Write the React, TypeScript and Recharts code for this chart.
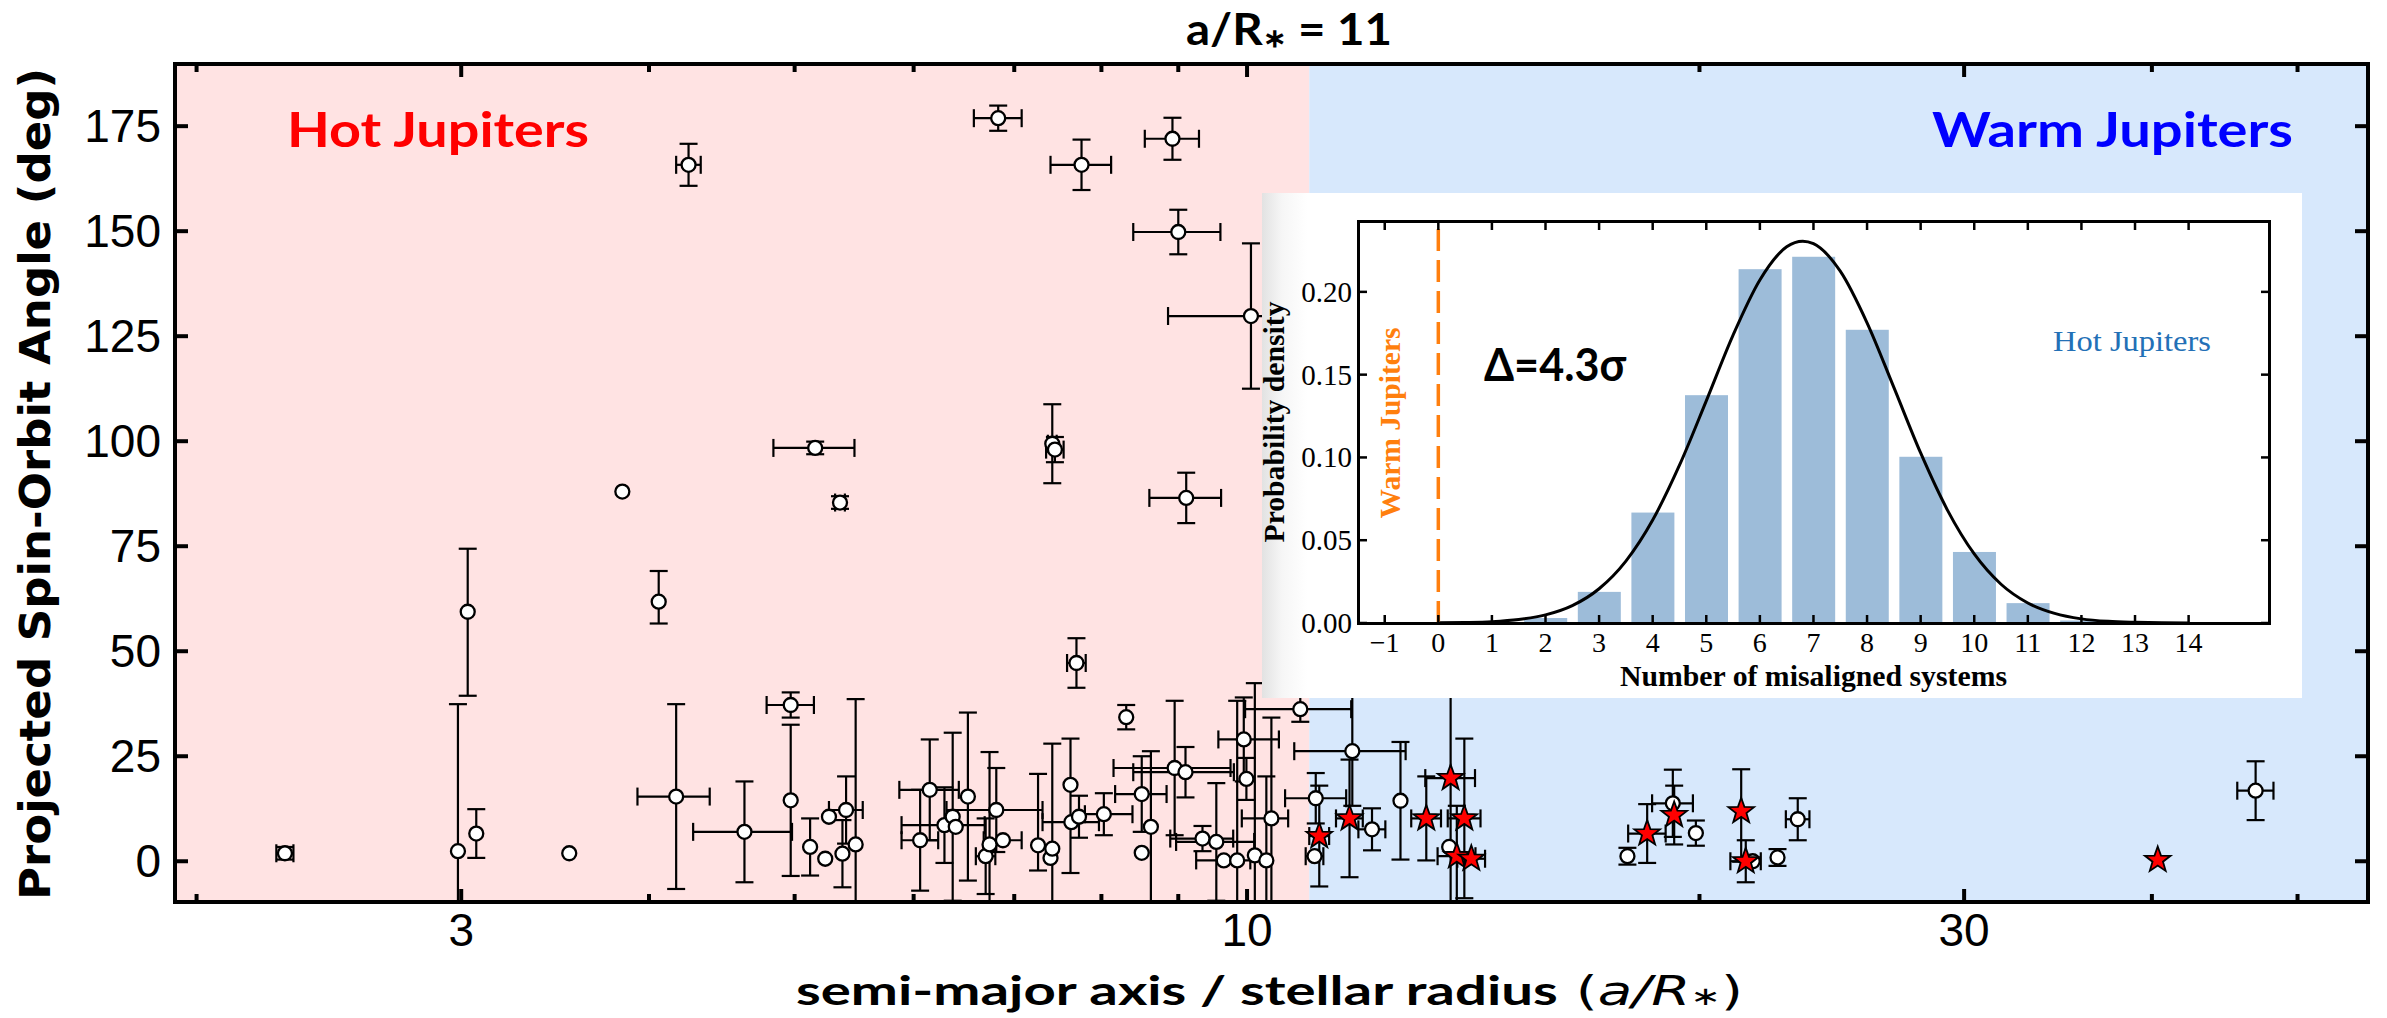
import React from 'react';
import { ComposedChart, Scatter, ErrorBar, XAxis, YAxis, ReferenceArea, Bar, Line, ReferenceLine } from 'recharts';

if (typeof document !== 'undefined') {
  document.body.style.margin = '0';
}

// ---------- main panel data ----------
const X_DOMAIN = [1.935, 55.7];
const Y_DOMAIN = [-9.7, 189.8];
const BOUNDARY = 11;
const X_MAJOR = [3, 10, 30];
const X_MINOR = [2, 4, 5, 6, 7, 8, 9, 20, 40, 50];
const Y_TICKS = [0, 25, 50, 75, 100, 125, 150, 175];

// [a/R*, projected obliquity, x error, y error]  (error: value or [minus, plus])
const OPEN_POINTS: any[] = [
  [2.29, 1.9, 0.03, 1.5],
  [3.03, 59.4, 0, [20, 15]],
  [2.985, 2.4, 0, [45, 35]],
  [3.07, 6.6, 0, 5.8],
  [3.54, 1.9, 0, 0],
  [3.84, 88.0, 0, 0],
  [4.06, 61.8, 0, [5.2, 7.3]],
  [4.17, 15.4, [0.24, 0.22], 22],
  [4.25, 165.8, 0.08, 5],
  [4.63, 7.0, 0.35, 12],
  [4.97, 37.2, 0.18, 3],
  [4.97, 14.5, 0, 18],
  [5.12, 3.4, 0, 6.8],
  [5.16, 98.4, 0.32, 1.5],
  [5.24, 0.6, 0, 0],
  [5.27, 10.6, 0, 0],
  [5.36, 85.4, 0.04, 1.5],
  [5.38, 1.8, 0, 8],
  [5.41, 12.2, 0.14, 8],
  [5.49, 4.0, 0, 34.6],
  [6.06, 5.0, 0.17, 12],
  [6.15, 17.0, 0.28, 12],
  [6.29, 8.6, 0.4, 9],
  [6.37, 10.6, 0, 20],
  [6.40, 8.2, 0, 0],
  [6.52, 15.4, 0, 20],
  [6.70, 1.2, 0.1, 9],
  [6.74, 4.0, 0, 22],
  [6.81, 12.2, 0.5, 10],
  [6.83, 176.9, 0.25, 3],
  [6.88, 5.0, 0.2, 0],
  [7.26, 3.8, 0, [6, 17]],
  [7.40, 0.8, 0, 0],
  [7.42, 3.0, 0, 25],
  [7.42, 99.4, 0.05, 9.4],
  [7.45, 98.0, 0.1, 3],
  [7.63, 18.2, 0, [21, 11]],
  [7.64, 9.3, 0.33, 0],
  [7.70, 47.2, 0.11, 5.9],
  [7.73, 10.6, 0, 5],
  [7.76, 165.8, 0.36, 6],
  [8.03, 11.2, [0.23, 0.36], 5],
  [8.31, 34.3, 0, 2.9],
  [8.51, 16.0, [0.34, 0.33], 9],
  [8.51, 2.0, 0, 0],
  [8.63, 8.2, 0, 18],
  [8.92, 172.0, 0.37, 5],
  [8.95, 22.2, 0.8, 16],
  [9.00, 149.8, 0.6, 5.3],
  [9.10, 21.2, 0.7, 6],
  [9.11, 86.5, 0.5, 6],
  [9.34, 5.4, 0.45, 3],
  [9.54, 4.6, 0.57, 14],
  [9.65, 0.2, 0.4, 0],
  [9.85, 0.2, 0, 38],
  [9.95, 29.0, [0.38, 0.55], 10],
  [9.99, 19.6, 0, 5],
  [10.06, 129.8, 1.2, 17.3],
  [10.12, 1.4, 0, 41],
  [10.30, 0.2, 0, 20],
  [10.38, 10.2, [0.46, 0.27], 24],
  [10.85, 36.2, 0.88, 3],
  [11.09, 1.2, 0.15, 0],
  [11.11, 15.0, [0.51, 0.53], 6],
  [11.75, 26.2, 1.0, 13],
  [12.11, 7.6, 0.25, 5],
  [12.65, 14.4, 0, 14],
  [13.63, 3.4, 0, 0],
  [17.91, 1.2, 0, 2],
  [19.2, 13.8, 0.6, 8],
  [19.89, 6.7, 0, 3],
  [21.7, 0.0, 0, 0],
  [22.54, 0.9, 0, 2],
  [23.25, 10.0, 0.42, 5],
  [46.89, 16.8, 1.3, 7],
];

const STAR_POINTS: any[] = [
  [11.17, 6.0, 0.17, 12],
  [11.70, 10.2, 0.24, 14],
  [13.16, 10.2, 0.3, 10],
  [13.66, 19.8, 0.52, 40],
  [13.95, 10.2, 0.35, 19],
  [13.79, 1.2, 0.4, 12],
  [14.10, 0.6, 0.3, 0],
  [18.46, 6.6, 0.53, 7],
  [19.24, 11.0, 0, 7],
  [21.32, 11.9, 0, [12, 10]],
  [21.47, 0.0, 0.5, 5],
  [40.36, 0.3, 0, 0],
];

// ---------- inset data ----------
const HIST_N = [2, 3, 4, 5, 6, 7, 8, 9, 10, 11, 12];
const HIST_P = [0.003, 0.0188, 0.0667, 0.1376, 0.2137, 0.2212, 0.1771, 0.1004, 0.0429, 0.012, 0.0015];
const CURVE_X = [0, 0.5, 1, 1.5, 2, 2.5, 3, 3.5, 4, 4.5, 5, 5.5, 6, 6.5, 6.8, 7, 7.5, 8, 8.5, 9, 9.5, 10, 10.5, 11, 11.5, 12, 12.5, 13, 13.5, 14];
const CURVE_P = [0.0001, 0.0003, 0.0008, 0.0021, 0.0049, 0.0105, 0.0207, 0.0374, 0.0622, 0.0953, 0.1342, 0.1739, 0.2072, 0.2272, 0.2306, 0.2291, 0.2125, 0.1813, 0.1423, 0.1027, 0.0682, 0.0417, 0.0234, 0.0121, 0.0058, 0.0025, 0.001, 0.0004, 0.0001, 0.0];
const INSET_X_DOMAIN = [-1.48, 15.5];
const INSET_Y_DOMAIN = [0, 0.2422];
const INSET_X_TICKS = [-1, 0, 1, 2, 3, 4, 5, 6, 7, 8, 9, 10, 11, 12, 13, 14];
const INSET_Y_TICKS = [0, 0.05, 0.1, 0.15, 0.2];
const WARM_COUNT = 0;

// ---------- built tables ----------
const toRows = (arr: any[]) => arr.map((p) => ({ x: p[0], y: p[1], ex: p[2], ey: p[3] }));
const openData = toRows(OPEN_POINTS);
const starData = toRows(STAR_POINTS);
const histData = HIST_N.map((n, i) => ({ n, p: HIST_P[i] }));
const curveData = CURVE_X.map((n, i) => ({ n, p: CURVE_P[i] }));

// ---------- layout ----------
const W = 2387;
const H = 1018;
const MAIN = { left: 175, top: 64, width: 2193, height: 838 };
const INSET_BOX = { left: 1262, top: 193, width: 1040, height: 505 };
const INSET = { left: 1359, top: 222, width: 910, height: 401 };
const BAR_PX = 43;

const TICK_FONT = "'Liberation Sans', Arial, sans-serif";
const SERIF = "'Liberation Serif', 'Times New Roman', serif";

const XTick = (props: any) => {
  const { x, y, payload } = props;
  const v = payload.value;
  const major = X_MAJOR.indexOf(v) >= 0;
  const len = major ? 13 : 8;
  return (
    <g>
      <line x1={x} x2={x} y1={y} y2={y - len} stroke="#000" strokeWidth={4} />
      <line x1={x} x2={x} y1={y - MAIN.height} y2={y - MAIN.height + len} stroke="#000" strokeWidth={4} />
      {major && (
        <text x={x} y={y + 44} textAnchor="middle" fontFamily={TICK_FONT} fontSize={46} fill="#000">
          {v}
        </text>
      )}
    </g>
  );
};

const YTick = (props: any) => {
  const { x, y, payload } = props;
  return (
    <g>
      <line x1={x} x2={x + 13} y1={y} y2={y} stroke="#000" strokeWidth={4} />
      <line x1={x + MAIN.width} x2={x + MAIN.width - 13} y1={y} y2={y} stroke="#000" strokeWidth={4} />
      <text x={x - 14} y={y + 16} textAnchor="end" fontFamily={TICK_FONT} fontSize={46} fill="#000">
        {payload.value}
      </text>
    </g>
  );
};

const InsetXTick = (props: any) => {
  const { x, y, payload } = props;
  const v = payload.value;
  const label = v < 0 ? '\u2212' + Math.abs(v) : String(v);
  return (
    <g>
      <line x1={x} x2={x} y1={y} y2={y - 8} stroke="#000" strokeWidth={2.5} />
      <line x1={x} x2={x} y1={y - INSET.height} y2={y - INSET.height + 8} stroke="#000" strokeWidth={2.5} />
      <text x={x} y={y + 29} textAnchor="middle" fontFamily={SERIF} fontSize={28} fill="#000">
        {label}
      </text>
    </g>
  );
};

const InsetYTick = (props: any) => {
  const { x, y, payload } = props;
  return (
    <g>
      <line x1={x} x2={x + 8} y1={y} y2={y} stroke="#000" strokeWidth={2.5} />
      <line x1={x + INSET.width} x2={x + INSET.width - 8} y1={y} y2={y} stroke="#000" strokeWidth={2.5} />
      <text x={x - 7} y={y + 10} textAnchor="end" fontFamily={SERIF} fontSize={29} fill="#000">
        {Number(payload.value).toFixed(2)}
      </text>
    </g>
  );
};

const HistBar = (props: any) => {
  const { x, y, width, height } = props;
  if (x == null || y == null || !(height > 0)) return <g />;
  const cx = x + width / 2;
  return <rect x={cx - BAR_PX / 2} y={y} width={BAR_PX} height={height} fill="#9dbcd9" />;
};

const OpenMarker = (props: any) => {
  const { cx, cy } = props;
  if (cx == null || cy == null) return <g />;
  return <circle cx={cx} cy={cy} r={7} fill="#fff" stroke="#000" strokeWidth={2.3} />;
};

const StarMarker = (props: any) => {
  const { cx, cy } = props;
  if (cx == null || cy == null) return <g />;
  const R = 13.5;
  const r = 5.5;
  const pts: string[] = [];
  for (let i = 0; i < 10; i++) {
    const a = -Math.PI / 2 + (i * Math.PI) / 5;
    const rr = i % 2 === 0 ? R : r;
    pts.push(`${cx + rr * Math.cos(a)},${cy + rr * Math.sin(a)}`);
  }
  return <polygon points={pts.join(' ')} fill="#ff0000" stroke="#000" strokeWidth={1.8} strokeLinejoin="miter" />;
};

const errProps = { width: 9, stroke: '#000', strokeWidth: 2.2, isAnimationActive: false } as any;

const CLIP_CSS = `
.main-plot .recharts-errorBars, .main-plot .recharts-errorBar { clip-path: url(#mainPlotClip); }
`;

export default function App() {
  const xTicks = [...X_MINOR, ...X_MAJOR].sort((a, b) => a - b);
  return (
    <div style={{ position: 'relative', width: W, height: H, background: '#fff', overflow: 'hidden' }}>
      <style>{CLIP_CSS}</style>
      <svg width={0} height={0} style={{ position: 'absolute' }}>
        <defs>
          <clipPath id="mainPlotClip" clipPathUnits="userSpaceOnUse">
            <rect x={MAIN.left} y={MAIN.top} width={MAIN.width} height={MAIN.height} />
          </clipPath>
        </defs>
      </svg>
      <div className="main-plot" style={{ position: 'absolute', left: 0, top: 0 }}>
        <ComposedChart width={W} height={H} margin={{ top: MAIN.top, right: W - MAIN.left - MAIN.width, bottom: H - MAIN.top - MAIN.height - 60, left: MAIN.left - 100 }}>
          <ReferenceArea x1={X_DOMAIN[0]} x2={BOUNDARY} y1={Y_DOMAIN[0]} y2={Y_DOMAIN[1]} fill="#ffe3e3" fillOpacity={1} stroke="none" ifOverflow="hidden" />
          <ReferenceArea x1={BOUNDARY} x2={X_DOMAIN[1]} y1={Y_DOMAIN[0]} y2={Y_DOMAIN[1]} fill="#d7e8fc" fillOpacity={1} stroke="none" ifOverflow="hidden" />
          <Scatter data={openData} shape={OpenMarker} isAnimationActive={false}>
            <ErrorBar dataKey="ex" direction="x" {...errProps} />
            <ErrorBar dataKey="ey" direction="y" {...errProps} />
          </Scatter>
          <Scatter data={starData} shape={StarMarker} isAnimationActive={false}>
            <ErrorBar dataKey="ex" direction="x" {...errProps} />
            <ErrorBar dataKey="ey" direction="y" {...errProps} />
          </Scatter>
          <XAxis
            dataKey="x"
            type="number"
            scale="log"
            domain={X_DOMAIN}
            allowDataOverflow
            ticks={xTicks}
            interval={0}
            tick={XTick}
            tickLine={false}
            axisLine={false}
            tickSize={0}
            tickMargin={0}
            height={60}
          />
          <YAxis
            dataKey="y"
            type="number"
            domain={Y_DOMAIN}
            allowDataOverflow
            ticks={Y_TICKS}
            interval={0}
            tick={YTick}
            tickLine={false}
            axisLine={false}
            tickSize={0}
            tickMargin={0}
            width={100}
          />
        </ComposedChart>
      </div>
      {/* main frame */}
      <div
        style={{
          position: 'absolute',
          left: MAIN.left - 2,
          top: MAIN.top - 2,
          width: MAIN.width + 4,
          height: MAIN.height + 4,
          border: '4px solid #000',
          boxSizing: 'border-box',
          pointerEvents: 'none',
        }}
      />
      {/* inset box */}
      <div
        style={{
          position: 'absolute',
          left: INSET_BOX.left,
          top: INSET_BOX.top,
          width: INSET_BOX.width,
          height: INSET_BOX.height,
          background: 'linear-gradient(to right, #e2e2e2 0px, #f6f6f6 20px, #ffffff 45px)',
        }}
      >
        <ComposedChart
          width={INSET_BOX.width}
          height={INSET_BOX.height}
          data={histData}
          margin={{
            top: INSET.top - INSET_BOX.top,
            right: INSET_BOX.left + INSET_BOX.width - INSET.left - INSET.width,
            bottom: INSET_BOX.top + INSET_BOX.height - INSET.top - INSET.height - 40,
            left: INSET.left - INSET_BOX.left - 60,
          }}
        >
          <Bar dataKey="p" fill="#9dbcd9" shape={HistBar} isAnimationActive={false} />
          <Line data={curveData} dataKey="p" type="monotone" stroke="#000" strokeWidth={3} dot={false} activeDot={false} isAnimationActive={false} />
          <ReferenceLine x={WARM_COUNT} stroke="#ff7f0e" strokeWidth={3.5} strokeDasharray="22 9" />
          <XAxis
            dataKey="n"
            type="number"
            domain={INSET_X_DOMAIN}
            allowDataOverflow
            ticks={INSET_X_TICKS}
            interval={0}
            tick={InsetXTick}
            tickLine={false}
            axisLine={false}
            tickSize={0}
            tickMargin={0}
            height={40}
          />
          <YAxis
            type="number"
            domain={INSET_Y_DOMAIN}
            allowDataOverflow
            ticks={INSET_Y_TICKS}
            interval={0}
            tick={InsetYTick}
            tickLine={false}
            axisLine={false}
            tickSize={0}
            tickMargin={0}
            width={60}
          />
        </ComposedChart>
      </div>
      {/* inset frame */}
      <div
        style={{
          position: 'absolute',
          left: INSET.left - 1.75,
          top: INSET.top - 1.75,
          width: INSET.width + 3.5,
          height: INSET.height + 3.5,
          border: '3.5px solid #000',
          boxSizing: 'border-box',
          pointerEvents: 'none',
        }}
      />
      {/* texts */}
      <svg width={W} height={H} style={{ position: 'absolute', left: 0, top: 0, pointerEvents: 'none' }}>
        <text x={1186} y={45} fontFamily="Lato, 'Open Sans', sans-serif" fontWeight={700} fontSize={44} fill="#000" textLength={206} lengthAdjust="spacingAndGlyphs">
          a/R<tspan fontSize={26} dy={2}>{'\u2217'}</tspan>
          <tspan dy={-2}> = 11</tspan>
        </text>
        <text x={287} y={147} fontFamily="Lato, 'Open Sans', sans-serif" fontWeight={700} fontSize={48} fill="#ff0000" textLength={302} lengthAdjust="spacingAndGlyphs">
          Hot Jupiters
        </text>
        <text x={1932} y={147} fontFamily="Lato, 'Open Sans', sans-serif" fontWeight={700} fontSize={48} fill="#0000ff" textLength={361} lengthAdjust="spacingAndGlyphs">
          Warm Jupiters
        </text>
        <text x={796} y={1005} fontFamily="Lato, 'Open Sans', sans-serif" fontWeight={700} fontSize={40} fill="#000" textLength={947} lengthAdjust="spacingAndGlyphs">
          semi-major axis / stellar radius
          <tspan fontFamily="'DejaVu Sans', sans-serif" fontWeight={400}> (</tspan>
          <tspan fontFamily="'DejaVu Sans', sans-serif" fontWeight={400} fontStyle="italic">a/R</tspan>
          <tspan fontFamily="'DejaVu Sans', sans-serif" fontWeight={400} fontSize={26}>{'\u2217'}</tspan>
          <tspan fontFamily="'DejaVu Sans', sans-serif" fontWeight={400}>)</tspan>
        </text>
        <text transform="translate(50,484) rotate(-90)" textAnchor="middle" fontFamily="'DejaVu Sans', sans-serif" fontWeight={700} fontSize={42} fill="#000" textLength={832} lengthAdjust="spacingAndGlyphs">
          Projected Spin-Orbit Angle (deg)
        </text>
        {/* inset texts */}
        <text transform="translate(1400,423) rotate(-90)" textAnchor="middle" fontFamily={SERIF} fontWeight={700} fontSize={30} fill="#ff7f0e" textLength={191} lengthAdjust="spacingAndGlyphs">
          Warm Jupiters
        </text>
        <text transform="translate(1284,422) rotate(-90)" textAnchor="middle" fontFamily={SERIF} fontWeight={700} fontSize={30} fill="#000" textLength={241} lengthAdjust="spacingAndGlyphs">
          Probability density
        </text>
        <text x={1484} y={381} fontFamily="Lato, 'Open Sans', sans-serif" fontWeight={700} fontSize={46} fill="#000" textLength={142} lengthAdjust="spacingAndGlyphs">
          {'\u0394=4.3\u03c3'}
        </text>
        <text x={2053} y={351} fontFamily={SERIF} fontSize={30} fill="#2370b6" textLength={158} lengthAdjust="spacingAndGlyphs">
          Hot Jupiters
        </text>
        <text x={1620} y={686} fontFamily={SERIF} fontWeight={700} fontSize={29} fill="#000" textLength={387} lengthAdjust="spacingAndGlyphs">
          Number of misaligned systems
        </text>
      </svg>
    </div>
  );
}
